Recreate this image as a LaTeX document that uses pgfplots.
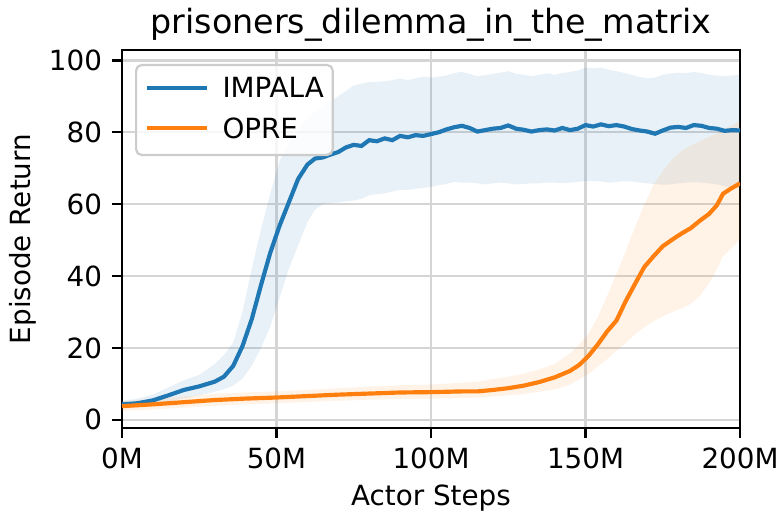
\documentclass[border=0pt]{standalone}
\usepackage{fontspec}
\setmainfont{DejaVu Sans}
\usepackage{pgfplots}
\usepackage{pgfplotstable}
\pgfplotsset{compat=1.18}
\usepgfplotslibrary{fillbetween}
\definecolor{impala}{HTML}{1F77B4}
\definecolor{opre}{HTML}{FF7F0E}
\definecolor{gridc}{HTML}{D5D5D5}
\definecolor{legc}{HTML}{CCCCCC}

\pgfplotstableread{
x mean lo hi
0 4.3 3.3 5.3
5 4.6 3.5 5.9
10 5.4 4.0 7.0
15 6.8 5.0 9.0
20 8.3 6.0 11.0
25 9.3 6.8 12.5
30 10.6 7.8 15.5
33 12.0 8.5 18.0
36 15.0 9.5 21.5
39 20.5 11.5 30.0
42 28.0 15.0 42.0
45 37.5 20.0 53.0
48 46.5 26.0 63.0
51 54.0 34.0 72.0
54 60.5 42.0 77.0
57 67.0 48.5 80.5
60 71.0 55.0 84.0
62.5 72.7 58.5 85.5
65 73.0 60.0 87.0
67.5 73.8 60.3 88.5
70 74.5 60.5 90.0
72.5 75.8 60.8 91.5
75 76.5 61.0 93.0
77.5 76.2 61.5 93.5
80 77.8 62.5 94.0
82.5 77.5 62.8 94.0
85 78.3 63.0 94.2
87.5 77.8 63.5 94.5
90 79.0 64.0 95.0
92.5 78.6 64.0 94.5
95 79.2 64.3 95.0
97.5 79.0 64.5 95.5
100 79.5 64.8 95.2
102.5 80.0 65.3 95.5
105 80.8 65.6 95.8
107.5 81.4 66.2 96.5
110 81.8 66.0 96.8
112.5 81.2 66.0 96.2
115 80.2 65.8 95.6
117.5 80.6 65.5 95.9
120 81.0 65.8 96.3
122.5 81.2 66.0 96.6
125 81.9 65.8 97.0
127.5 81.0 65.5 96.3
130 80.7 65.6 96.0
132.5 80.2 65.8 95.6
135 80.6 65.8 96.0
137.5 80.8 66.0 96.4
140 80.5 66.0 96.0
142.5 81.2 65.8 96.5
145 80.6 66.0 96.8
147.5 81.0 66.2 97.2
150 82.0 66.4 98.0
152.5 81.6 66.5 97.8
155 82.2 66.3 98.0
157.5 81.7 66.0 97.4
160 82.0 66.2 97.0
162.5 81.6 66.4 96.5
165 80.9 66.3 96.0
167.5 80.5 66.0 95.4
170 80.2 65.8 95.0
172.5 79.6 65.6 95.2
175 80.5 65.4 96.0
177.5 81.3 65.5 96.4
180 81.5 65.8 96.6
182.5 81.2 66.0 96.4
185 82.0 66.1 96.8
187.5 81.8 66.0 96.5
190 81.2 65.8 96.0
192.5 81.0 65.5 95.8
195 80.4 65.0 95.6
197.5 80.6 64.6 95.8
200 80.5 64.5 96.0
}\impala

\pgfplotstableread{
x mean lo hi
0 3.8 2.5 5.2
10 4.3 2.9 5.8
20 4.9 3.4 6.5
30 5.5 3.9 7.2
40 5.9 4.3 7.6
50 6.2 4.6 7.9
60 6.6 5.0 8.3
70 7.0 5.3 8.8
80 7.3 5.6 9.2
90 7.6 5.8 9.6
100 7.7 5.9 9.8
110 7.9 6.1 10.3
115 7.9 6.2 10.6
120 8.3 6.5 11.3
125 8.8 6.8 12.0
130 9.5 7.2 12.8
135 10.5 7.8 14.0
140 11.8 8.5 15.5
145 13.6 9.8 18.5
148 15.3 11.3 21.0
151 17.8 12.8 24.0
154 21.0 14.8 28.6
157 24.6 16.9 34.5
160 27.6 19.2 40.5
163 33.0 21.4 46.8
166 37.8 23.8 53.6
169 42.5 25.8 59.8
172 45.5 27.4 65.4
175 48.3 28.8 69.2
178 50.1 30.0 72.4
181 51.8 31.0 74.8
184 53.3 32.2 76.3
187 55.4 34.5 77.5
190 57.3 38.0 78.7
192.5 59.7 42.0 79.7
194.5 62.9 45.5 80.6
197 64.3 47.6 81.8
200 65.8 50.0 83.2
}\opre

\begin{document}
\begin{tikzpicture}
\begin{axis}[
  scale only axis,
  width=222.5pt, height=136.1pt,
  xmin=0, xmax=200, ymin=-2.3, ymax=102.9,
  xtick={0,50,100,150,200},
  xticklabels={0M,50M,100M,150M,200M},
  ytick={0,20,40,60,80,100},
  xtick pos=bottom, ytick pos=left,
  tick align=outside,
  major tick length=3.5pt,
  tick style={black, line width=0.8pt},
  axis line style={line width=0.8pt},
  grid=major,
  grid style={gridc, line width=0.8pt},
  /pgf/number format/assume math mode=true,
  tick label style={font=\fontsize{10}{12}\selectfont},
  xticklabel style={anchor=north, inner sep=0pt, yshift=-3.4pt},
  yticklabel style={anchor=east, inner sep=0pt, xshift=-3.5pt},
  title={prisoners\_dilemma\_in\_the\_matrix},
  title style={font=\fontsize{12}{14}\selectfont, at={(axis description cs:0.5,1)}, anchor=base},
  xlabel={Actor Steps},
  ylabel={Episode Return},
  label style={font=\fontsize{10}{12}\selectfont},
  xlabel style={at={(axis description cs:0.5,-0.2045)}, anchor=base},
  ylabel style={at={(axis description cs:-0.160,0.5)}, anchor=center},
  legend cell align=left,
  legend image code/.code={\draw[#1, line width=1.5pt] (0pt,3.65pt) -- (21.6pt,3.65pt);},
  legend style={at={(rel axis cs:0,1)}, anchor=north west, xshift=4.7pt, yshift=-5pt,
    draw=legc, line width=0.8pt, fill=white, fill opacity=0.8, text opacity=1, draw opacity=1,
    rounded corners=2pt, font=\fontsize{10}{12}\selectfont,
    inner xsep=3.2pt, inner ysep=1.6pt, row sep=0pt, column sep=4.8pt,
    nodes={inner sep=0pt, text height=10.25pt, text depth=4.35pt, anchor=base west}},
]
\addplot[name path=iu, draw=none, forget plot] table[x=x, y=hi] {\impala};
\addplot[name path=il, draw=none, forget plot] table[x=x, y=lo] {\impala};
\addplot[impala, fill opacity=0.1, forget plot] fill between[of=iu and il];
\addplot[name path=ou, draw=none, forget plot] table[x=x, y=hi] {\opre};
\addplot[name path=ol, draw=none, forget plot] table[x=x, y=lo] {\opre};
\addplot[opre, fill opacity=0.1, forget plot] fill between[of=ou and ol];
\addplot[impala, line width=1.5pt] table[x=x, y=mean] {\impala};
\addlegendentry{IMPALA}
\addplot[opre, line width=1.5pt] table[x=x, y=mean] {\opre};
\addlegendentry{OPRE}
\end{axis}
\pgfresetboundingbox
\useasboundingbox (-43.9pt,-32pt) rectangle (237.6pt,154.1pt);
\end{tikzpicture}
\end{document}
